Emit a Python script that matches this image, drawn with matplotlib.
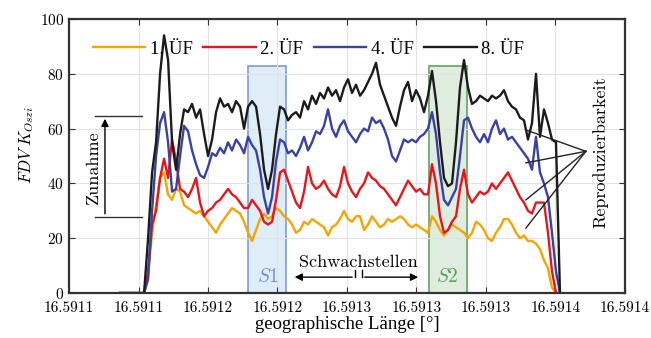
import numpy as np
import matplotlib
matplotlib.use("Agg")
import matplotlib.pyplot as plt
from matplotlib.patches import Rectangle

plt.rcParams['font.family'] = ['cmr10', 'Liberation Serif']
plt.rcParams['mathtext.fontset'] = 'cm'
plt.rcParams['axes.formatter.use_mathtext'] = True
uml_font = ['Liberation Serif']  # cmr10 has no proper umlauts / degree sign

# sample longitudes (measurement grid)
lon = np.linspace(16.5911294, 16.5913826, 111)

# FDV K_Oszi
uef1 = [0, 0, 0, 0, 0, 0, 0, 6, 22, 32, 42, 44, 36, 34, 38, 37, 32, 31, 30, 29,
        30, 28, 26, 24, 22, 25, 27, 29, 31, 30, 29, 26, 22, 19, 23, 27, 29, 27, 28, 31,
        30, 28, 27, 25, 22, 23, 26, 25, 27, 26, 25, 24, 21, 24, 25, 27, 30, 27, 26, 28,
        28, 23, 25, 28, 26, 24, 25, 27, 26, 27, 28, 27, 25, 24, 25, 24, 23, 22, 28, 26,
        23, 21, 23, 25, 24, 23, 22, 20, 22, 26, 25, 23, 20, 19, 22, 24, 27, 27, 25, 22,
        20, 21, 19, 19, 18, 16, 12, 9, 2, 0, 0]
uef2 = [0, 0, 0, 0, 0, 0, 0, 8, 25, 30, 42, 49, 42, 56, 48, 38, 37, 35, 38, 42,
        33, 28, 30, 31, 33, 34, 36, 38, 36, 35, 33, 31, 31, 34, 32, 30, 26, 25, 26, 34,
        44, 45, 41, 37, 33, 31, 37, 46, 40, 38, 39, 41, 38, 36, 35, 39, 46, 40, 37, 35,
        38, 40, 44, 42, 41, 39, 38, 36, 34, 32, 35, 38, 41, 39, 37, 38, 36, 36, 47, 40,
        28, 22, 23, 26, 28, 38, 45, 36, 33, 35, 37, 36, 37, 40, 38, 40, 42, 44, 41, 38,
        35, 33, 30, 29, 33, 33, 33, 22, 8, 0, 0]
uef4 = [0, 0, 0, 0, 0, 0, 0, 5, 30, 50, 62, 66, 55, 37, 38, 50, 61, 59, 52, 47,
        43, 42, 46, 51, 50, 53, 51, 55, 52, 56, 54, 51, 57, 54, 52, 45, 35, 29, 35, 48,
        56, 55, 51, 52, 50, 53, 57, 52, 55, 59, 58, 61, 67, 60, 57, 61, 63, 59, 57, 55,
        58, 60, 59, 64, 62, 63, 60, 56, 50, 48, 52, 56, 55, 56, 55, 57, 58, 60, 66, 58,
        44, 34, 32, 35, 38, 50, 63, 64, 60, 57, 55, 58, 55, 60, 63, 58, 60, 56, 57, 55,
        53, 51, 49, 45, 57, 44, 40, 35, 22, 8, 0]
uef8 = [0, 0, 0, 0, 0, 0, 0, 20, 44, 55, 80, 94, 85, 55, 45, 58, 67, 66, 69, 64,
        67, 58, 50, 56, 66, 71, 68, 69, 66, 70, 68, 60, 68, 70, 68, 58, 45, 38, 45, 58,
        68, 67, 63, 65, 66, 64, 70, 67, 72, 69, 73, 71, 75, 72, 74, 70, 75, 78, 73, 76,
        72, 74, 77, 80, 84, 76, 72, 68, 64, 61, 68, 74, 77, 70, 74, 71, 66, 72, 81, 70,
        55, 42, 39, 40, 55, 75, 85, 75, 69, 70, 72, 71, 70, 72, 71, 72, 74, 70, 68, 67,
        64, 63, 56, 62, 80, 57, 67, 62, 56, 55, 0]

labels = ['1. ÜF', '2. ÜF', '4. ÜF', '8. ÜF']
colors = ['#f7a400', '#e8161b', '#3a41a4', '#1c1c1c']

xticks = np.arange(16.59110, 16.591425, 0.00004)

fig = plt.figure(figsize=(6.51, 3.38), dpi=100)
ax = fig.add_axes([0.106, 0.133, 0.854, 0.811])

# weak spots
ax.add_patch(Rectangle((16.591203, 0), 0.000022, 83, facecolor='#dcebf8',
                       edgecolor='#7c9ad9', lw=1.3, alpha=0.9, zorder=1))
ax.add_patch(Rectangle((16.591307, 0), 0.000022, 83, facecolor='#dcebdc',
                       edgecolor='#62a062', lw=1.3, alpha=0.9, zorder=1))

for ys, c, lab in zip([uef1, uef2, uef4, uef8], colors, labels):
    ax.plot(lon, ys, color=c, lw=1.7, label=lab, zorder=3)

ax.set_xlim(16.59110, 16.59142)
ax.set_ylim(0, 100)
ax.set_xticks(xticks)
ax.set_xticklabels(['%.4f' % v for v in xticks])
ax.set_yticks(np.arange(0, 101, 20))
ax.tick_params(direction='in', top=True, right=True, labelsize=11, length=4,
               color='#333333')
ax.tick_params(axis='x', pad=6)
ax.grid(True, color='#e2e2e2', lw=0.8, zorder=0)
for s in ax.spines.values():
    s.set_linewidth(1.6)
    s.set_color('#333333')
    s.set_zorder(5)

ax.set_xlabel('geographische Länge [°]', fontsize=13.5, labelpad=1, family=uml_font)
ax.set_ylabel(r'$FDV\;K_{Oszi}$', fontsize=12)
ax.yaxis.set_label_coords(-0.06, 0.54)

ax.legend(loc='center left', bbox_to_anchor=(0.043, 0.89), ncol=4, frameon=False,
          prop={'family': uml_font, 'size': 13.5}, handlelength=2.8,
          handletextpad=0.25, columnspacing=0.55, borderpad=0, borderaxespad=0)

# Zunahme
ax.plot([16.5911150, 16.5911420], [64.6, 64.6], color='#333333', lw=1)
ax.plot([16.5911150, 16.5911420], [27.9, 27.9], color='#333333', lw=1)
ax.annotate('', xy=(16.5911207, 64.6), xytext=(16.5911207, 27.9),
            arrowprops=dict(arrowstyle='-|>', color='black', lw=1, mutation_scale=11))
ax.text(16.5911138, 46, 'Zunahme', rotation=90, ha='center', va='center', fontsize=13)

# Schwachstellen
ax.text(16.5912663, 11.3, 'Schwachstellen', ha='center', va='center', fontsize=13)
ax.annotate('', xy=(16.5912283, 5.8), xytext=(16.5912646, 5.8),
            arrowprops=dict(arrowstyle='-|>', color='black', lw=1, mutation_scale=11))
ax.annotate('', xy=(16.5913026, 5.8), xytext=(16.5912686, 5.8),
            arrowprops=dict(arrowstyle='-|>', color='black', lw=1, mutation_scale=11))
ax.plot([16.5912646, 16.5912646], [5.8, 8.5], color='black', lw=1)
ax.plot([16.5912686, 16.5912686], [5.8, 8.5], color='black', lw=1)
ax.text(16.5912145, 5.8, r'$S1$', color='#6f8ed6', ha='center', va='center', fontsize=14)
ax.text(16.5913175, 5.8, r'$S2$', color='#5c9c5c', ha='center', va='center', fontsize=14)

# Reproduzierbarkeit
for yv in [59.5, 47.5, 34.0, 23.7]:
    ax.plot([16.5913630, 16.5913975], [yv, 51.7], color='#222222', lw=1, zorder=4)
ax.text(16.5914060, 51.5, 'Reproduzierbarkeit', rotation=90, ha='center',
        va='center', fontsize=13)

fig.savefig('out.png', dpi=100)
